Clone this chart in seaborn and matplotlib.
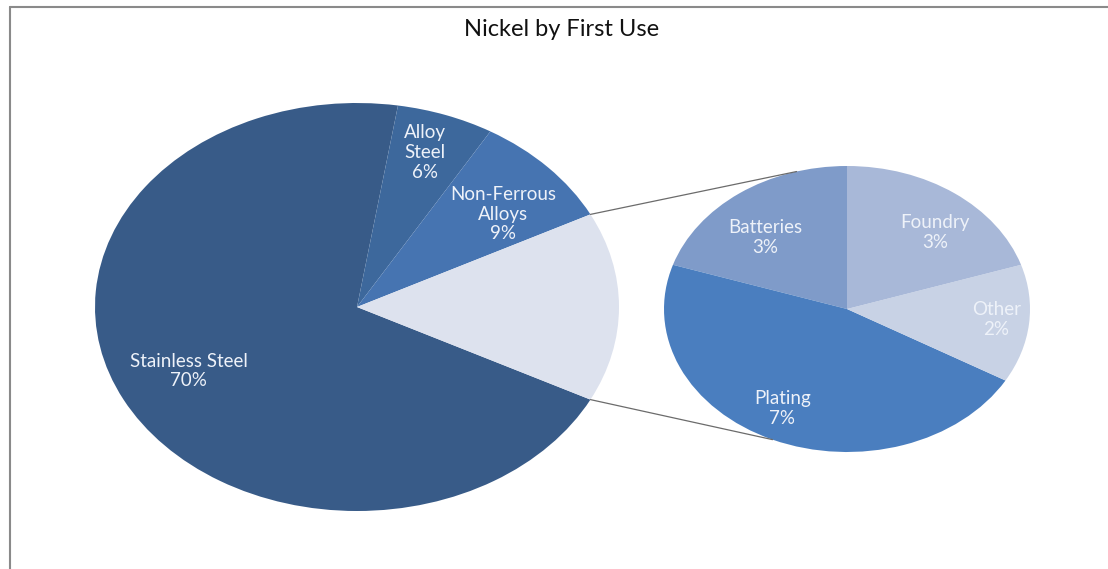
import numpy as np
import matplotlib
matplotlib.use("Agg")
import matplotlib.pyplot as plt
from matplotlib.patches import ConnectionPatch
from matplotlib.lines import Line2D
import seaborn as sns

# ---- data ----
main_labels = ["Stainless Steel", "Alloy Steel", "Non-Ferrous Alloys", "Other uses"]
main_values = [70, 6, 9, 15]
main_text = ["Stainless Steel\n70%", "Alloy\nSteel\n6%", "Non-Ferrous\nAlloys\n9%", None]
main_colors = ["#385b88", "#3d689c", "#4674b1", "#dde2ee"]

sub_labels = ["Batteries", "Plating", "Other", "Foundry"]
sub_values = [3, 7, 2, 3]
sub_text = ["Batteries\n3%", "Plating\n7%", "Other\n2%", "Foundry\n3%"]
sub_colors = ["#7f9bc9", "#4a7ebf", "#c8d2e5", "#a8b8d8"]

title = "Nickel by First Use"

sns.set_theme(style="white")
plt.rcParams['font.family'] = ['Lato', 'DejaVu Sans']

W, H = 1108, 569
fig = plt.figure(figsize=(W / 100, H / 100), dpi=100)

def px_axes(x0, y0, x1, y1):
    return fig.add_axes([x0 / W, 1 - y1 / H, (x1 - x0) / W, (y1 - y0) / H])

# main pie (elliptical), drawn clockwise so the "other" slice sits on the right
ax1 = px_axes(95, 103, 619, 511)
w1, _ = ax1.pie(main_values, colors=main_colors, startangle=333, counterclock=False,
                wedgeprops=dict(linewidth=0))
ax1.set_aspect('auto')
ax1.set_xlim(-1, 1); ax1.set_ylim(-1, 1)
ax1.axis('off')
main_r = [0.715, 0.80, 0.72, None]
main_da = [-1, 1, -4, 0]
for w, t, r, da in zip(w1, main_text, main_r, main_da):
    if t is None:
        continue
    a = np.deg2rad((w.theta1 + w.theta2) / 2 + da)
    ax1.text(r * np.cos(a), r * np.sin(a), t, ha='center', va='center',
             color='#eef2f9', fontsize=13.5, linespacing=1.2)

# secondary pie
ax2 = px_axes(664, 166, 1030, 452)
w2, _ = ax2.pie(sub_values, colors=sub_colors, startangle=90, counterclock=True,
                wedgeprops=dict(linewidth=0))
ax2.set_aspect('auto')
ax2.set_xlim(-1, 1); ax2.set_ylim(-1, 1)
ax2.axis('off')
sub_r = [0.67, 0.78, 0.82, 0.72]
sub_da = [6, -3, 1, -6]
for w, t, r, da in zip(w2, sub_text, sub_r, sub_da):
    a = np.deg2rad((w.theta1 + w.theta2) / 2 + da)
    ax2.text(r * np.cos(a), r * np.sin(a), t, ha='center', va='center',
             color='#eef2f9', fontsize=13.5, linespacing=1.2)

# connector lines
other_w = w1[3]
t_lo, t_hi = sorted([other_w.theta1, other_w.theta2])
for th_main, th_sub in [(t_hi, 106), (t_lo, 246)]:
    a1 = np.deg2rad(th_main); a2 = np.deg2rad(th_sub)
    con = ConnectionPatch(xyA=(np.cos(a1), np.sin(a1)), coordsA=ax1.transData,
                          xyB=(np.cos(a2), np.sin(a2)), coordsB=ax2.transData,
                          color='#6b6b6b', linewidth=0.9)
    fig.add_artist(con)

# title
fig.text(562 / W, 1 - 30 / H, title, ha='center', va='center', fontsize=17, color='#111111')

# chart border (top and left visible)
fig.add_artist(Line2D([9.5 / W, 1], [1 - 6.5 / H, 1 - 6.5 / H], color='#8a8a8a', linewidth=1.5))
fig.add_artist(Line2D([9.5 / W, 9.5 / W], [0, 1 - 6.5 / H], color='#8a8a8a', linewidth=1.5))

fig.savefig("out.png", dpi=100)
